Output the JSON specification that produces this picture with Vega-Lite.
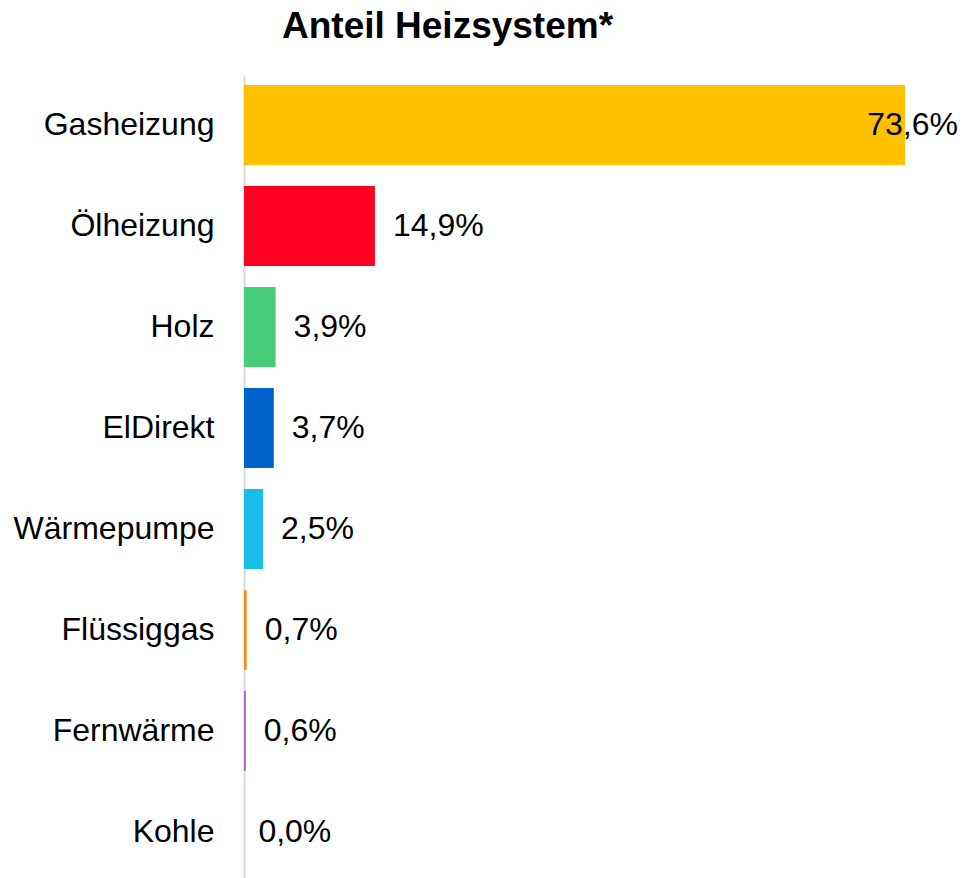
{
  "$schema": "https://vega.github.io/schema/vega-lite/v6.json",
  "width": 670,
  "height": 807,
  "autosize": "none",
  "padding": {"left": 244, "top": 75, "right": 52, "bottom": 0},
  "background": "white",
  "title": {
    "text": "Anteil Heizsystem*",
    "font": "Liberation Sans",
    "fontSize": 37,
    "fontWeight": "bold",
    "color": "black",
    "anchor": "start",
    "frame": "group",
    "dx": 38,
    "offset": 29
  },
  "data": {
    "values": [
      {"system": "Gasheizung", "anteil": 73.6, "label": "73,6%"},
      {"system": "Ölheizung", "anteil": 14.9, "label": "14,9%"},
      {"system": "Holz", "anteil": 3.9, "label": "3,9%"},
      {"system": "ElDirekt", "anteil": 3.7, "label": "3,7%"},
      {"system": "Wärmepumpe", "anteil": 2.5, "label": "2,5%"},
      {"system": "Flüssiggas", "anteil": 0.7, "label": "0,7%"},
      {"system": "Fernwärme", "anteil": 0.6, "label": "0,6%"},
      {"system": "Kohle", "anteil": 0.0, "label": "0,0%"}
    ]
  },
  "encoding": {
    "y": {
      "field": "system",
      "type": "nominal",
      "sort": null,
      "title": null,
      "scale": {"paddingInner": 0.21, "paddingOuter": 0.1},
      "axis": {
        "ticks": false,
        "grid": false,
        "domainColor": "#D9D9D9",
        "domainWidth": 2,
        "labelFont": "Liberation Sans",
        "labelFontSize": 32,
        "labelColor": "black",
        "labelPadding": 30,
        "labelLimit": 400
      }
    }
  },
  "layer": [
    {
      "mark": {"type": "bar", "clip": true},
      "encoding": {
        "x": {
          "field": "anteil",
          "type": "quantitative",
          "scale": {"domain": [0.4, 74.6], "zero": false, "nice": false},
          "axis": null
        },
        "color": {
          "field": "system",
          "type": "nominal",
          "legend": null,
          "scale": {
            "domain": ["Gasheizung", "Ölheizung", "Holz", "ElDirekt", "Wärmepumpe", "Flüssiggas", "Fernwärme", "Kohle"],
            "range": ["#FFC000", "#FF0022", "#47CD7A", "#0063CC", "#18BEEA", "#FF8A1A", "#9B6BAE", "#7F7F7F"]
          }
        }
      }
    },
    {
      "transform": [{"filter": "datum.anteil < 50"}],
      "mark": {"type": "text", "align": "left", "baseline": "middle", "dx": 18, "font": "Liberation Sans", "fontSize": 32, "color": "black"},
      "encoding": {
        "x": {"field": "anteil", "type": "quantitative"},
        "text": {"field": "label"}
      }
    },
    {
      "transform": [{"filter": "datum.anteil >= 50"}],
      "mark": {"type": "text", "align": "right", "baseline": "middle", "dx": 53, "font": "Liberation Sans", "fontSize": 32, "color": "black"},
      "encoding": {
        "x": {"field": "anteil", "type": "quantitative"},
        "text": {"field": "label"}
      }
    }
  ],
  "config": {"view": {"stroke": null}}
}
